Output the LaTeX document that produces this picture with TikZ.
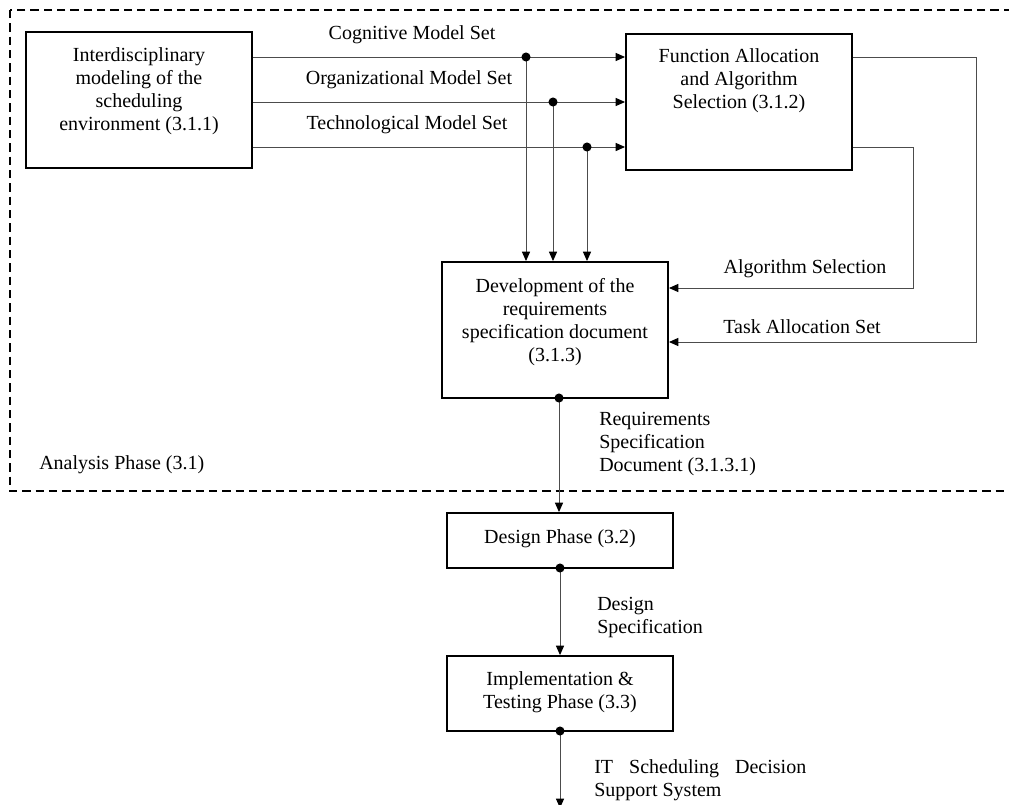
\documentclass[tikz,border=0pt]{standalone}
\usepackage{fontspec}
\setmainfont{Liberation Serif}
\usetikzlibrary{arrows.meta}
\begin{document}
\begin{tikzpicture}[x=0.75pt,y=-0.75pt,
  every node/.style={font=\fontsize{15pt}{17.25pt}\selectfont},
  box/.style={draw=black,line width=1.4pt,minimum width=169.5pt,inner sep=0pt},
  conn/.style={draw=black!70,line width=0.75pt},
  arr/.style={conn,-{Triangle[length=7pt,width=6pt,black]}},
  lbl/.style={inner sep=0pt},
  dotc/.style={fill=black}]
\useasboundingbox (0,0) rectangle (1009,804);
\clip (0,0) rectangle (1009,804);
% analysis phase frame
\draw[line width=1.3pt,dash pattern=on 6.2pt off 3.8pt] (10,10) rectangle (1030,491);
\node[lbl,anchor=west] (ap) at (39,465) {Analysis Phase (3.1)};
% boxes
\node[box,minimum height=102pt] (b1) at (139,100) {};
\node[lbl,align=center] (t1) at (139,91) {Interdisciplinary\\modeling of the\\scheduling\\environment (3.1.1)};
\node[box,minimum height=102pt] (b2) at (739,102) {};
\node[lbl,align=center] (t2) at (739,81) {Function Allocation\\and Algorithm\\Selection (3.1.2)};
\node[box,minimum height=102pt] (b3) at (555,330) {};
\node[lbl,align=center] (t3) at (555,322) {Development of the\\requirements\\specification document\\(3.1.3)};
\node[box,minimum height=41.25pt] (b4) at (560,540.5) {};
\node[lbl] (t4) at (560,539) {Design Phase (3.2)};
\node[box,minimum height=56.25pt] (b5) at (560,693.5) {};
\node[lbl,align=center] (t5) at (560,692) {Implementation \&\\Testing Phase (3.3)};
% branch points
\coordinate (c1) at (526,57);
\coordinate (c2) at (553,102);
\coordinate (c3) at (587,147);
\coordinate (r1) at (976,57);
\coordinate (r2) at (913,147);
\coordinate (r1b) at (976,342);
\coordinate (r2b) at (913,288);
\coordinate (d3) at (559,398);
\coordinate (d4) at (560,568);
\coordinate (d5) at (560,731);
\coordinate (e5) at (560,808);
% model set flows
\draw[arr] (b1.east |- c1) -- (b2.west |- c1);
\draw[arr] (b1.east |- c2) -- (b2.west |- c2);
\draw[arr] (b1.east |- c3) -- (b2.west |- c3);
\draw[arr] (c1) -- (c1 |- b3.north);
\draw[arr] (c2) -- (c2 |- b3.north);
\draw[arr] (c3) -- (c3 |- b3.north);
\fill (c1) circle (3.4pt);
\fill (c2) circle (3.4pt);
\fill (c3) circle (3.4pt);
\node[lbl] (l1) at (412,35) {Cognitive Model Set};
\node[lbl] (l2) at (409,80) {Organizational Model Set};
\node[lbl] (l3) at (407,125) {Technological Model Set};
% feedback from b2 to b3
\draw[arr] (b2.east |- r1) -- (r1) -- (r1b) -- (b3.east |- r1b);
\draw[arr] (b2.east |- r2) -- (r2) -- (r2b) -- (b3.east |- r2b);
\node[lbl] (l4) at (805,269) {Algorithm Selection};
\node[lbl] (l5) at (802,327) {Task Allocation Set};
% downstream
\draw[arr] (d3) -- (d3 |- b4.north);
\fill (d3) circle (3.4pt);
\node[lbl,anchor=west,align=left] (l6) at (599,444) {Requirements\\Specification\\Document (3.1.3.1)};
\draw[arr] (d4) -- (d4 |- b5.north);
\fill (d4) circle (3.4pt);
\node[lbl,anchor=west,align=left] (l7) at (597,617) {Design\\Specification};
\draw[arr] (d5) -- (e5);
\fill (d5) circle (3.4pt);
\node[lbl,anchor=west,align=left] (l8) at (594,780) {\makebox[159pt][s]{IT\hfill Scheduling\hfill Decision}\\Support System};
\end{tikzpicture}
\end{document}
